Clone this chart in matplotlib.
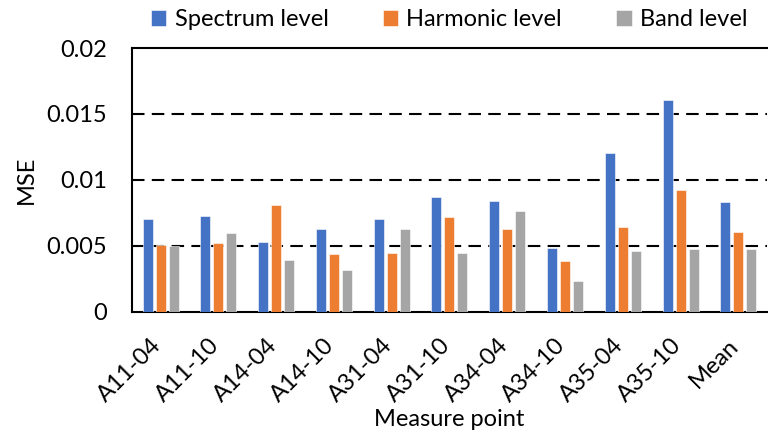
import matplotlib
matplotlib.use("Agg")
import matplotlib.pyplot as plt
import matplotlib.transforms as mtransforms
import numpy as np

plt.rcParams['font.family'] = ['Lato', 'DejaVu Sans']

# MSE per measure point
points = ['A11-04', 'A11-10', 'A14-04', 'A14-10', 'A31-04', 'A31-10',
          'A34-04', 'A34-10', 'A35-04', 'A35-10', 'Mean']
spectrum = [0.0070, 0.00726, 0.00529, 0.00627, 0.0070, 0.0087,
            0.0084, 0.00486, 0.01204, 0.01608, 0.0083]
harmonic = [0.00506, 0.00523, 0.00812, 0.00438, 0.00445, 0.00718,
            0.00627, 0.00385, 0.00642, 0.0092, 0.00602]
band = [0.0050, 0.0060, 0.00392, 0.00316, 0.00625, 0.00445,
        0.00764, 0.00235, 0.0046, 0.00473, 0.00478]
series = ['Spectrum level', 'Harmonic level', 'Band level']
colors = ['#4472C4', '#ED7D31', '#A5A5A5']
yticks = [0, 0.005, 0.01, 0.015, 0.02]
ytick_labels = ['0', '0.005', '0.01', '0.015', '0.02']

fs = 17

fig = plt.figure(figsize=(7.68, 4.37), dpi=100)
ax = fig.add_axes([0.1715, 0.2867, 0.8275, 0.6033])

x = np.arange(len(points))
w = 0.173
step = 0.225
for i, (vals, name, c) in enumerate(zip([spectrum, harmonic, band], series, colors)):
    ax.bar(x + (i - 1) * step, vals, width=w, color=c, label=name,
           edgecolor='white', linewidth=0.4, zorder=3)

ax.set_xlim(-0.5, len(points) - 0.5)
ax.set_ylim(0, 0.02)
ax.set_yticks(yticks)
ax.set_yticklabels(ytick_labels)
ax.set_xticks(x)
ax.set_xticklabels(points, rotation=45, ha='right', va='center',
                   rotation_mode='anchor')
ax.tick_params(axis='both', length=0, labelsize=fs, colors='black')
ax.tick_params(axis='y', pad=18)
ax.tick_params(axis='x', pad=22)

# nudge rotated labels a little left
shift = mtransforms.ScaledTranslation(-0.03, 0, fig.dpi_scale_trans)
for lbl in ax.get_xticklabels():
    lbl.set_transform(lbl.get_transform() + shift)

# dashed horizontal gridlines
for v in yticks[1:-1]:
    ax.axhline(v, color='black', linewidth=1.5, dashes=(6, 3.5), zorder=1)

for side in ['left', 'bottom', 'top']:
    ax.spines[side].set_color('black')
    ax.spines[side].set_linewidth(1.5)
ax.spines['right'].set_visible(False)

ax.set_ylabel('MSE', fontsize=fs)
ax.yaxis.set_label_coords(-0.15, 0.5)
ax.set_xlabel('Measure point', fontsize=fs)
ax.xaxis.set_label_coords(0.5, -0.37)

fig.legend(loc='center', bbox_to_anchor=(0.585, 0.955), ncol=3, frameon=False,
           fontsize=fs, handlelength=0.65, handleheight=0.65, handletextpad=0.35,
           columnspacing=2.3, borderaxespad=0)

fig.savefig('out.png', dpi=100)
